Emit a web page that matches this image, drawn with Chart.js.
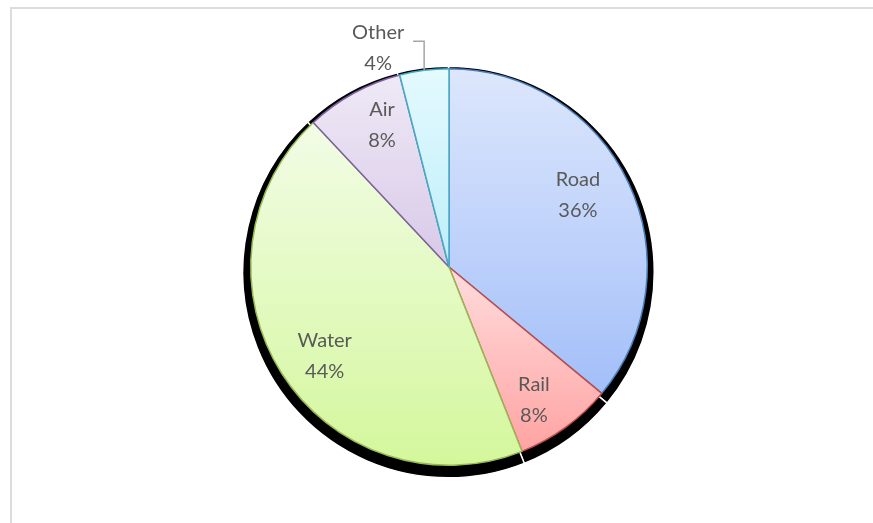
<!DOCTYPE html>
<html>
<head>
<meta charset="utf-8">
<script src="https://cdn.jsdelivr.net/npm/chart.js@4/dist/chart.umd.min.js"></script>
<style>
  html, body { margin: 0; padding: 0; background: #ffffff; }
  #wrap { position: relative; width: 873px; height: 523px; overflow: hidden; }
  #frame { position: absolute; left: 10px; top: 7px; width: 900px; height: 560px;
           border-left: 2px solid #dcdcdc; border-top: 2px solid #dcdcdc; }
  canvas { position: absolute; left: 0; top: 0; }
</style>
</head>
<body>
<div id="wrap">
  <div id="frame"></div>
  <canvas id="chart" width="873" height="523"></canvas>
</div>
<script>
// Freight share by transport mode (percent)
const categories = ['Road', 'Rail', 'Water', 'Air', 'Other'];
const shares = [36, 8, 44, 8, 4];

// Per-slice gradient stops (top, bottom) and outline colours
const fillTop    = ['#dde7fc', '#ffdcdc', '#f2fce6', '#efe9f6', '#e4fafe'];
const fillBottom = ['#a3bff9', '#ffa3a3', '#d4f79c', '#d8c9e8', '#bdeefa'];
const outline    = ['#4a7ebb', '#be4b48', '#98b954', '#7d60a0', '#46aac5'];

const total = shares.reduce((a, b) => a + b, 0);

// Vertical extent of a pie sector, angles measured clockwise from 12 o'clock
function sectorYRange(cy, r, a0, a1) {
  const ys = [cy, cy - r * Math.cos(a0), cy - r * Math.cos(a1)];
  for (let k = -2; k <= 4; k++) {
    const a = k * Math.PI;
    if (a > a0 && a < a1) ys.push(cy - r * Math.cos(a));
  }
  return [Math.min(...ys), Math.max(...ys)];
}

function sliceGradient(ctx) {
  const chart = ctx.chart;
  const area = chart.chartArea;
  if (!area) return fillTop[ctx.dataIndex];
  const i = ctx.dataIndex;
  const cy = (area.top + area.bottom) / 2;
  const r = Math.min(area.right - area.left, area.bottom - area.top) / 2;
  let before = 0;
  for (let k = 0; k < i; k++) before += shares[k];
  const a0 = before / total * 2 * Math.PI;
  const a1 = (before + shares[i]) / total * 2 * Math.PI;
  const [y0, y1] = sectorYRange(cy, r, a0, a1);
  const g = chart.ctx.createLinearGradient(0, y0, 0, y1);
  g.addColorStop(0, fillTop[i]);
  g.addColorStop(1, fillBottom[i]);
  return g;
}

// Dark drop shadow drawn under each slice
const sliceShadow = {
  id: 'sliceShadow',
  beforeDatasetsDraw(chart) {
    const c = chart.ctx;
    const meta = chart.getDatasetMeta(0);
    c.save();
    meta.data.forEach(arc => {
      const p = arc.getProps(['x', 'y', 'startAngle', 'endAngle', 'outerRadius'], true);
      const sr = p.outerRadius * 1.038;
      const sx = p.x - 0.5, sy = p.y + 5;
      c.beginPath();
      c.moveTo(sx, sy);
      c.arc(sx, sy, sr, p.startAngle, p.endAngle);
      c.closePath();
      c.fillStyle = '#000000';
      c.fill();
      c.lineWidth = 1.5;
      c.strokeStyle = '#ffffff';
      c.stroke();
    });
    c.restore();
  }
};

// Category name and percentage written on each slice
const sliceLabels = {
  id: 'sliceLabels',
  afterDatasetsDraw(chart, args, opts) {
    const c = chart.ctx;
    const meta = chart.getDatasetMeta(0);
    c.save();
    c.font = opts.font;
    c.fillStyle = opts.color;
    c.textAlign = 'center';
    c.textBaseline = 'middle';
    meta.data.forEach((arc, i) => {
      const p = arc.getProps(['x', 'y', 'startAngle', 'endAngle', 'outerRadius'], true);
      const mid = (p.startAngle + p.endAngle) / 2;
      const lines = [categories[i], shares[i] + '%'];
      let lx, ly;
      if (opts.outside[i]) {
        const ex = p.x + p.outerRadius * Math.cos(mid);
        const ey = p.y + p.outerRadius * Math.sin(mid);
        lx = ex - 46; ly = ey - 22;
        c.beginPath();
        c.moveTo(ex, ey);
        c.lineTo(ex, ly - 7);
        c.lineTo(lx + 35, ly - 7);
        c.strokeStyle = '#a6a6a6';
        c.lineWidth = 1.5;
        c.stroke();
      } else {
        const ang = mid + opts.turn[i] * Math.PI / 180;
        const rr = p.outerRadius * opts.radius[i];
        lx = p.x + rr * Math.cos(ang);
        ly = p.y + rr * Math.sin(ang);
      }
      c.fillText(lines[0], lx, ly - opts.lineGap / 2);
      c.fillText(lines[1], lx, ly + opts.lineGap / 2);
    });
    c.restore();
  }
};

new Chart(document.getElementById('chart'), {
  type: 'pie',
  data: {
    labels: categories,
    datasets: [{
      data: shares,
      backgroundColor: sliceGradient,
      borderColor: outline,
      borderWidth: 1.5,
      hoverOffset: 0
    }]
  },
  options: {
    responsive: false,
    animation: false,
    layout: { padding: { top: 68, bottom: 57, left: 25, right: 0 } },
    plugins: {
      legend: { display: false },
      tooltip: { enabled: false },
      sliceLabels: {
        font: '20px Lato, "Open Sans", sans-serif',
        color: '#595959',
        lineGap: 31,
        radius: [0.745, 0.795, 0.77, 0.79, 1],
        turn: [-4, 3.4, -3.1, 3.5, 0],
        outside: [false, false, false, false, true]
      }
    }
  },
  plugins: [sliceShadow, sliceLabels]
});
</script>
</body>
</html>
